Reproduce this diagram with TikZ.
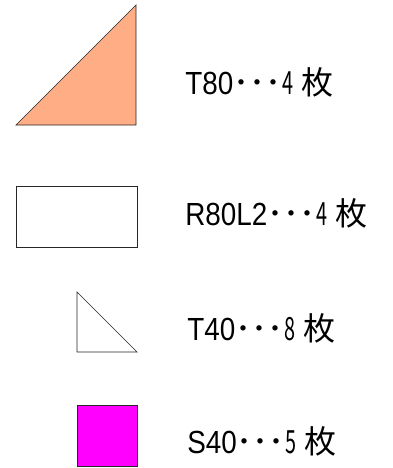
\documentclass[tikz,border=0pt]{standalone}
\usepackage{fontspec}
\usepackage{tikz}
\setmainfont{Liberation Sans}
\newfontfamily\latin[FakeStretch=0.87]{Liberation Sans}
\newfontfamily\jfont{Noto Sans CJK JP}
\newfontfamily\jnarrow[FakeStretch=0.62]{Noto Sans CJK JP}
\newcommand\kazu[1]{{\jfont ･･･}\hspace{1pt}{\jnarrow #1}\hspace{8pt}{\jfont 枚}}
\definecolor{salmon}{HTML}{FFAD85}
\definecolor{pink}{HTML}{FF00FF}
\tikzset{lab/.style={anchor=base west,inner sep=0pt,font=\fontsize{32}{36}\latin}}

\begin{document}
\begin{tikzpicture}[x=1pt,y=-1pt,line width=0.7pt]
\useasboundingbox (0,0) rectangle (393,468);
\coordinate (a1) at (16,125);
\coordinate (a2) at (136,125);
\coordinate (a3) at (136,5);
\coordinate (b1) at (16,186);
\coordinate (b2) at (137,247);
\coordinate (c1) at (77,292);
\coordinate (c2) at (77,352);
\coordinate (c3) at (137,352);
\coordinate (d1) at (77,405);
\coordinate (d2) at (137,466);

\filldraw[fill=salmon, draw=black!85] (a1)--(a2)--(a3)--cycle;
\draw[black!85] (b1) rectangle (b2);
\draw[black!85] (c1)--(c2)--(c3)--cycle;
\filldraw[fill=pink, draw=black!85] (d1) rectangle (d2);

\node[lab] (t80) at (185,95) {T80\kazu{4}};
\node[lab] (r80) at (185,225) {R80L2\kazu{4}};
\node[lab] (t40) at (187,340) {T40\kazu{8}};
\node[lab] (s40) at (187,453) {S40\kazu{5}};
\end{tikzpicture}
\end{document}
